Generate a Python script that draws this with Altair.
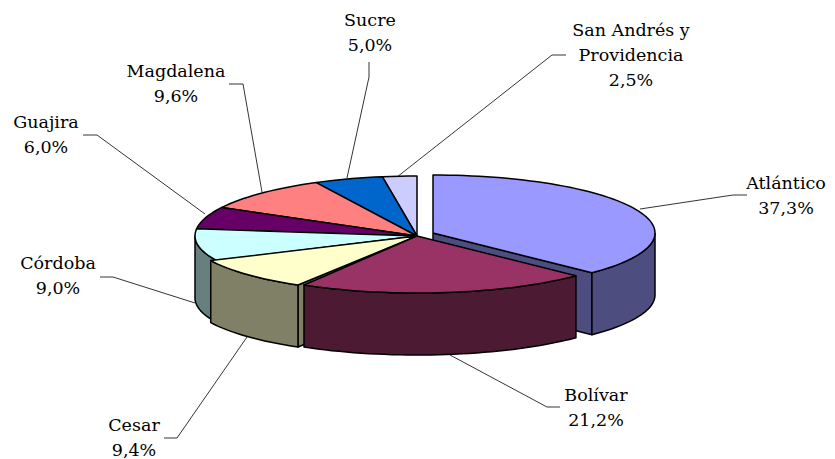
import math
import altair as alt
import pandas as pd

names = ["Atlántico", "Bolívar", "Cesar", "Córdoba", "Guajira", "Magdalena", "Sucre", "San Andrés y Providencia"]
shares = [37.3, 21.2, 9.4, 9.0, 6.0, 9.6, 5.0, 2.5]
top_colors = ["#9999FF", "#993366", "#FFFFCC", "#CCFFFF", "#660066", "#FF8080", "#0066CC", "#CCCCFF"]
wall_colors = ["#4D4D80", "#4D1A33", "#808066", "#668080", "#330033", "#804040", "#003366", "#666680"]
offset_x = [16, 0, -6, 0, 0, 0, 0, 0]
offset_y = [-3, 0, 0, 0, 0, 0, 0, 0]
tip_offset_x = [16, 0, 0, 0, 0, 0, 0, 0]
back_radius = [58, 60, 60, 60, 60, 60, 60, 60]
draw_order = [7, 6, 5, 4, 3, 0, 2, 1]

label_lines = [["Atlántico", "37,3%"], ["Bolívar", "21,2%"], ["Cesar", "9,4%"], ["Córdoba", "9,0%"],
               ["Guajira", "6,0%"], ["Magdalena", "9,6%"], ["Sucre", "5,0%"],
               ["San Andrés y", "Providencia", "2,5%"]]
label_x = [786, 596, 134, 58, 46, 176, 370, 631]
label_y = [184, 396, 426, 264, 123, 72, 21, 31]
leaders = [
    [(640, 209), (733, 195), (747, 195)],
    [(450, 355), (547, 407), (560, 407)],
    [(247, 337), (177, 438), (164, 438)],
    [(195, 303), (113, 277), (100, 277)],
    [(205, 214), (97, 135), (83, 135)],
    [(262, 192), (243, 84), (229, 84)],
    [(347, 178), (369, 77), (369, 62)],
    [(397, 177), (552, 55), (566, 55)],
]

CX, CY, RX, RY_FRONT, DEPTH = 417, 236, 222, 57, 62
W, H = 819, 451


def rim(i, t_deg):
    t = math.radians(t_deg)
    ry = back_radius[i] if math.cos(t) > 0 else RY_FRONT
    return (CX + offset_x[i] + RX * math.sin(t), CY + offset_y[i] - ry * math.cos(t))


def arc(i, a, b):
    n = max(2, int(abs(b - a) / 2))
    return [rim(i, a + (b - a) * k / n) for k in range(n + 1)]


bounds = [0.0]
for s in shares:
    bounds.append(bounds[-1] + s * 3.6)

x_scale = alt.Scale(domain=[8, 8 + W], range=[0, W], nice=False, zero=False)
y_scale = alt.Scale(domain=[8, 8 + H], range=[0, H], nice=False, zero=False)


def polygon(points, fill, width=1.5):
    closed = list(points) + [points[0]]
    frame = pd.DataFrame({"x": [p[0] for p in closed], "y": [p[1] for p in closed], "k": range(len(closed))})
    return alt.Chart(frame).mark_line(fill=fill, stroke="#000000", strokeWidth=width, strokeJoin="round").encode(
        x=alt.X("x:Q", scale=x_scale, axis=None),
        y=alt.Y("y:Q", scale=y_scale, axis=None),
        order="k:Q",
    )


layers = []

for seg in leaders:
    frame = pd.DataFrame({"x": [p[0] for p in seg], "y": [p[1] for p in seg], "k": range(len(seg))})
    layers.append(alt.Chart(frame).mark_line(color="#000000", strokeWidth=0.8).encode(
        x=alt.X("x:Q", scale=x_scale, axis=None),
        y=alt.Y("y:Q", scale=y_scale, axis=None),
        order="k:Q",
    ))

for i in draw_order:
    a, b = bounds[i], bounds[i + 1]
    tip = (CX + tip_offset_x[i], CY + offset_y[i])
    down = lambda p: (p[0], p[1] + DEPTH)
    # cut faces: the edge of an exploded slice that shows next to Bolívar
    if i in (0, 2):
        e = rim(i, b if i == 0 else a)
        layers.append(polygon([tip, e, down(e), down(tip)], wall_colors[i]))
    # outer wall: only the part of the rim facing the viewer
    wa, wb = max(a, 90), min(b, 270)
    if wa < wb:
        rim_pts = arc(i, wa, wb)
        layers.append(polygon(rim_pts + [down(p) for p in reversed(rim_pts)], wall_colors[i]))
    # top
    layers.append(polygon([tip] + arc(i, a, b), top_colors[i]))

text_rows = []
for i, lines in enumerate(label_lines):
    for j, line in enumerate(lines):
        text_rows.append({"x": label_x[i], "y": label_y[i] + 25 * j, "t": line})
layers.append(alt.Chart(pd.DataFrame(text_rows)).mark_text(
    font="DejaVu Serif", fontSize=17.5, color="#000000", align="center", baseline="middle"
).encode(
    x=alt.X("x:Q", scale=x_scale, axis=None),
    y=alt.Y("y:Q", scale=y_scale, axis=None),
    text="t:N",
))

chart = alt.layer(*layers).properties(
    width=W, height=H, padding=0, autosize=alt.AutoSizeParams(type="none"), background="#FFFFFF"
).configure_view(stroke=None)

chart.save("out.html", embed_options={"renderer": "svg", "actions": False})
